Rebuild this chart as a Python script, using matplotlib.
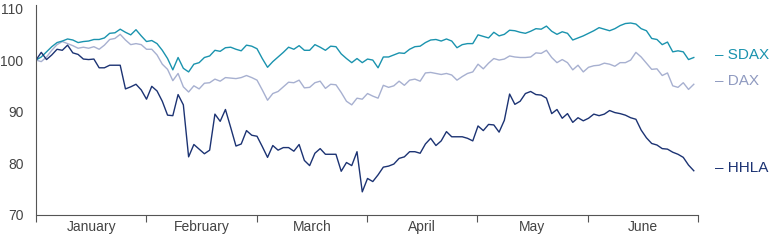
import numpy as np
import matplotlib
matplotlib.use("Agg")
import matplotlib.pyplot as plt
from matplotlib.ticker import FixedLocator, NullFormatter

plt.rcParams['font.family'] = ['Liberation Sans', 'DejaVu Sans']

months = ["January", "February", "March", "April", "May", "June"]
yticks = [70, 80, 90, 100, 110]

hhla = [100.0, 101.5, 100.1, 101.0, 102.1, 101.9, 102.9, 101.4, 101.1, 100.2,
        100.1, 100.2, 98.5, 98.5, 99.0, 99.0, 99.0, 94.4, 94.8, 95.3,
        94.2, 92.4, 94.9, 94.0, 92.0, 89.3, 89.2, 93.3, 91.3, 81.2,
        83.6, 82.7, 81.8, 82.5, 89.5, 88.1, 90.4, 86.9, 83.3, 83.7,
        86.3, 85.4, 85.2, 83.2, 81.1, 83.4, 82.5, 83.0, 83.0, 82.3,
        83.6, 80.5, 79.5, 81.9, 82.8, 81.7, 81.7, 81.7, 78.4, 80.1,
        79.5, 82.2, 74.4, 77.0, 76.4, 77.7, 79.2, 79.4, 79.8, 80.9,
        81.2, 82.2, 82.2, 81.9, 83.7, 84.8, 83.4, 84.3, 86.1, 85.1,
        85.1, 85.1, 84.8, 84.3, 87.2, 86.3, 87.5, 87.4, 86.0, 88.3,
        93.4, 91.4, 92.0, 93.5, 93.9, 93.3, 93.2, 92.6, 89.6, 90.4,
        88.7, 89.6, 87.9, 88.8, 88.2, 88.7, 89.5, 89.2, 89.5, 90.2,
        89.8, 89.6, 89.3, 88.8, 88.5, 86.4, 84.9, 83.8, 83.5, 82.8,
        82.7, 82.1, 81.7, 81.1, 79.6, 78.5]

sdax = [100.0, 100.6, 101.6, 102.6, 103.4, 103.7, 104.1, 103.9, 103.4, 103.6,
        103.7, 104.0, 104.0, 104.3, 105.2, 105.3, 106.0, 105.4, 104.9, 105.9,
        104.7, 103.6, 103.8, 103.2, 101.9, 100.3, 98.1, 100.5, 98.4, 97.7,
        99.2, 99.5, 100.5, 100.8, 101.9, 101.7, 102.4, 102.5, 102.1, 101.8,
        102.9, 102.7, 102.2, 100.3, 98.6, 99.7, 100.6, 101.5, 102.5, 102.1,
        102.8, 101.9, 101.9, 103.0, 102.5, 101.9, 102.7, 102.6, 101.2, 100.3,
        99.5, 100.3, 99.5, 100.2, 100.0, 98.5, 100.6, 100.6, 101.0, 101.4,
        101.3, 102.1, 102.6, 102.7, 103.4, 103.9, 104.0, 103.7, 104.1, 103.7,
        102.4, 103.0, 103.2, 103.2, 104.9, 104.6, 104.3, 105.4, 104.7, 105.0,
        105.8, 105.7, 105.4, 105.2, 105.6, 106.1, 106.0, 106.6, 105.6, 105.0,
        105.5, 105.2, 103.9, 104.3, 104.7, 105.2, 105.7, 106.3, 106.0, 105.7,
        106.1, 106.7, 107.1, 107.2, 107.0, 106.1, 105.7, 104.2, 104.0, 103.0,
        103.5, 101.6, 101.8, 101.6, 100.1, 100.5]

dax = [100.0, 99.7, 100.6, 101.9, 103.0, 103.6, 103.2, 102.8, 102.3, 102.5,
       102.3, 102.6, 102.1, 102.9, 104.0, 104.2, 105.0, 103.9, 103.0, 103.2,
       103.0, 102.1, 102.1, 101.0, 99.2, 98.2, 96.0, 97.4, 94.8, 93.8,
       95.0, 94.4, 95.5, 95.6, 96.3, 95.9, 96.6, 96.5, 96.4, 96.6,
       97.0, 96.6, 96.1, 94.2, 92.2, 93.5, 93.9, 94.8, 95.7, 95.6,
       96.1, 94.6, 94.7, 95.6, 95.9, 94.5, 95.3, 95.2, 93.7, 92.0,
       91.3, 92.6, 92.4, 93.5, 93.0, 92.6, 95.1, 94.7, 95.0, 95.9,
       95.1, 96.1, 96.3, 95.9, 97.5, 97.6, 97.4, 97.2, 97.4, 97.1,
       96.1, 96.8, 97.4, 97.7, 99.2, 98.3, 99.4, 100.3, 100.0, 100.2,
       100.8, 100.6, 100.5, 100.5, 100.6, 101.4, 101.3, 101.9, 100.5, 99.5,
       100.1, 99.5, 98.1, 99.0, 97.7, 98.6, 98.9, 99.0, 99.4, 99.2,
       98.8, 99.5, 99.5, 100.0, 101.5, 100.6, 99.4, 98.2, 98.3, 97.0,
       97.5, 95.0, 94.7, 95.6, 94.3, 95.3]

c_sdax = "#1A93AE"
c_dax = "#A7B0D0"
c_dax_txt = "#8F9AC0"
c_hhla = "#1C3373"
c_axis = "#555555"

fig = plt.figure(figsize=(7.8, 2.4), dpi=100)
ax = fig.add_axes([36/780, 1 - 214.5/240, 662/780, 209.5/240])

n = len(hhla)
x = np.arange(n)
xmax = 125.8
ax.plot(x, dax, color=c_dax, lw=1.0)
ax.plot(x, sdax, color=c_sdax, lw=1.0)
ax.plot(x, hhla, color=c_hhla, lw=1.0)

ax.set_xlim(0, xmax)
ax.set_ylim(70, 110.7)

bounds = np.linspace(0, xmax, len(months) + 1)
centers = (bounds[:-1] + bounds[1:]) / 2
ax.xaxis.set_major_locator(FixedLocator(bounds))
ax.xaxis.set_major_formatter(NullFormatter())
ax.xaxis.set_minor_locator(FixedLocator(centers))
ax.set_xticklabels(months, minor=True)
ax.tick_params(axis='x', which='major', length=5, width=0.8, color=c_axis, direction='out')
ax.tick_params(axis='x', which='minor', length=0, pad=4, labelsize=10, labelcolor="#444444")

ax.set_yticks(yticks)
ax.tick_params(axis='y', length=0, pad=9, labelsize=10, labelcolor="#444444")

for s in ['top', 'right']:
    ax.spines[s].set_visible(False)
for s in ['left', 'bottom']:
    ax.spines[s].set_color(c_axis)
    ax.spines[s].set_linewidth(0.8)

for vals, name, col in [(sdax, "SDAX", c_sdax), (dax, "DAX", c_dax_txt), (hhla, "HHLA", c_hhla)]:
    ax.annotate("\u2013 " + name, xy=(x[-1], vals[-1]), xytext=(15, 2),
                textcoords='offset points', ha='left', va='center',
                fontsize=11, color=col, annotation_clip=False)

fig.savefig("out.png", dpi=100)
